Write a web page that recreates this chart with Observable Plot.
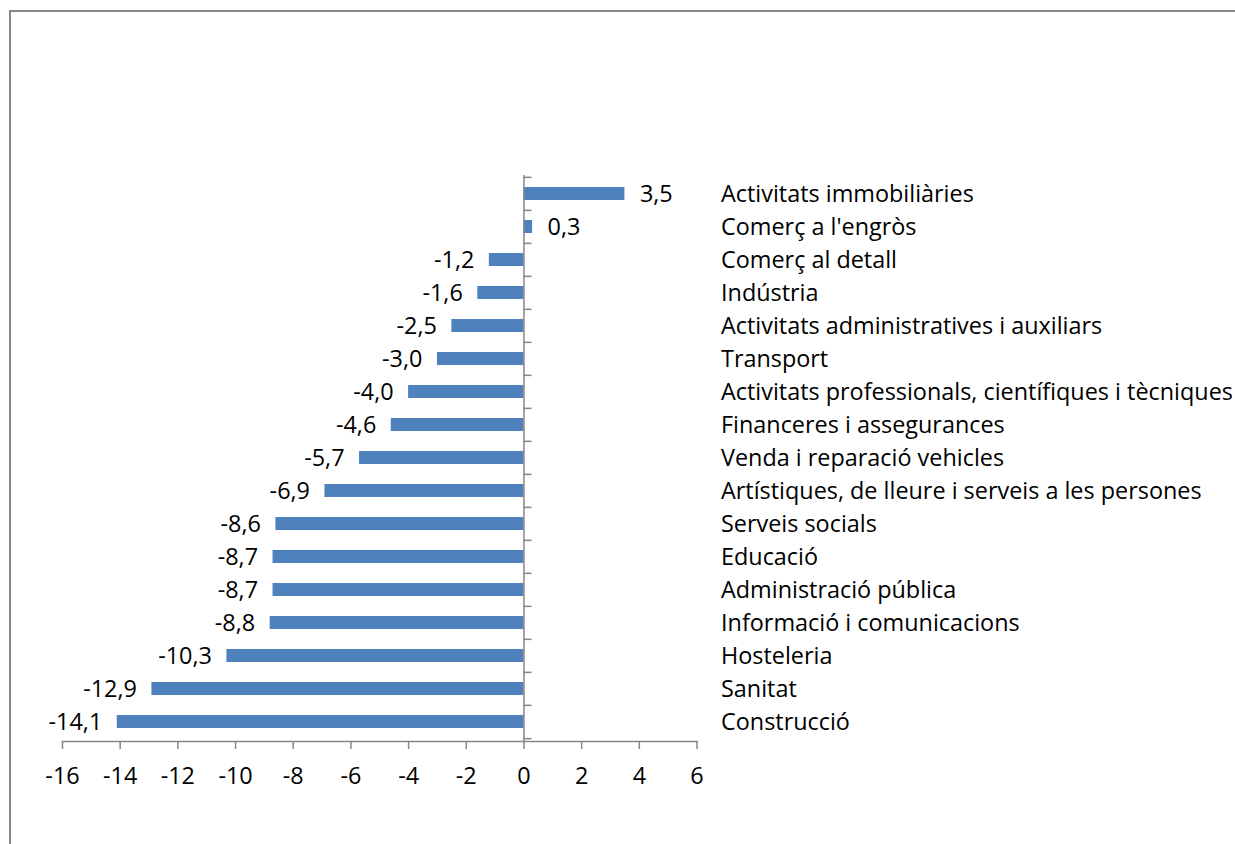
<!DOCTYPE html>
<html>
<head>
<meta charset="utf-8">
<script src="https://cdn.jsdelivr.net/npm/d3@7"></script>
<script src="https://cdn.jsdelivr.net/npm/@observablehq/plot@0.6"></script>
<style>
  html, body { margin: 0; padding: 0; background: #fff; }
  #wrap { position: relative; width: 1235px; height: 844px; overflow: hidden; }
  #frame { position: absolute; left: 9px; top: 10px; width: 1300px; height: 900px;
           border-left: 2px solid #868686; border-top: 2px solid #868686; }
  #chart { position: absolute; left: 0; top: 0; }
</style>
</head>
<body>
<div id="wrap"><div id="frame"></div><div id="chart"></div></div>
<script>
const categories = [
  "Activitats immobiliàries",
  "Comerç a l'engròs",
  "Comerç al detall",
  "Indústria",
  "Activitats administratives i auxiliars",
  "Transport",
  "Activitats professionals, científiques i tècniques",
  "Financeres i assegurances",
  "Venda i reparació vehicles",
  "Artístiques, de lleure i serveis a les persones",
  "Serveis socials",
  "Educació",
  "Administració pública",
  "Informació i comunicacions",
  "Hosteleria",
  "Sanitat",
  "Construcció"
];
const values = [3.5, 0.3, -1.2, -1.6, -2.5, -3.0, -4.0, -4.6, -5.7, -6.9, -8.6, -8.7, -8.7, -8.8, -10.3, -12.9, -14.1];
const xTicks = [-16, -14, -12, -10, -8, -6, -4, -2, 0, 2, 4, 6];

const data = categories.map((c, i) => ({cat: c, v: values[i]}));
const fmt = v => v.toFixed(1).replace(".", ",");

const W = 1235, H = 844;
const mTop = 175, mBottom = 103, mLeft = 62, mRight = 538.5;
const bandPx = (H - mTop - mBottom) / categories.length;
const unitPx = (W - mLeft - mRight) / 22;
const FONT = "'Open Sans', sans-serif";
const FS = 23.4;
const AX = "#868686";

const neg = data.filter(d => d.v < 0), pos = data.filter(d => d.v >= 0);
const chart = Plot.plot({
  width: W, height: H,
  marginTop: mTop, marginBottom: mBottom, marginLeft: mLeft, marginRight: mRight,
  style: {fontFamily: FONT, fontSize: FS + "px", color: "#000", background: "transparent", overflow: "visible"},
  x: {domain: [-16, 6], ticks: xTicks},
  y: {domain: categories, paddingInner: 0.6, paddingOuter: 0.3},
  marks: [
    Plot.barX(data, {y: "cat", x: "v", fill: "#4F81BD"}),
    Plot.ruleX([0], {stroke: AX, strokeWidth: 1.5}),
    Plot.ruleY(categories, {y: d => d, x1: 0, x2: 8 / unitPx, dy: -bandPx / 2, stroke: AX, strokeWidth: 1.5}),
    Plot.ruleY([categories[categories.length - 1]], {y: d => d, x1: 0, x2: 8 / unitPx, dy: bandPx / 2, stroke: AX, strokeWidth: 1.5}),
    Plot.frame({anchor: "bottom", stroke: AX, strokeWidth: 1.5}),
    Plot.axisX({ticks: xTicks, tickSize: 8, tickPadding: 18, stroke: AX, strokeWidth: 1.5,
      tickFormat: d => String(d), fill: "#000", fontSize: FS, label: null}),
    Plot.axisY({anchor: "right", tickSize: 0, tickPadding: 24, textAnchor: "start", fill: "#000", fontSize: FS, label: null}),
    Plot.text(neg, {y: "cat", x: "v", text: d => fmt(d.v), textAnchor: "end", dx: -15, fill: "#000", fontSize: FS}),
    Plot.text(pos, {y: "cat", x: "v", text: d => fmt(d.v), textAnchor: "start", dx: 15, fill: "#000", fontSize: FS})
  ]
});
document.getElementById("chart").appendChild(chart);
</script>
</body>
</html>
